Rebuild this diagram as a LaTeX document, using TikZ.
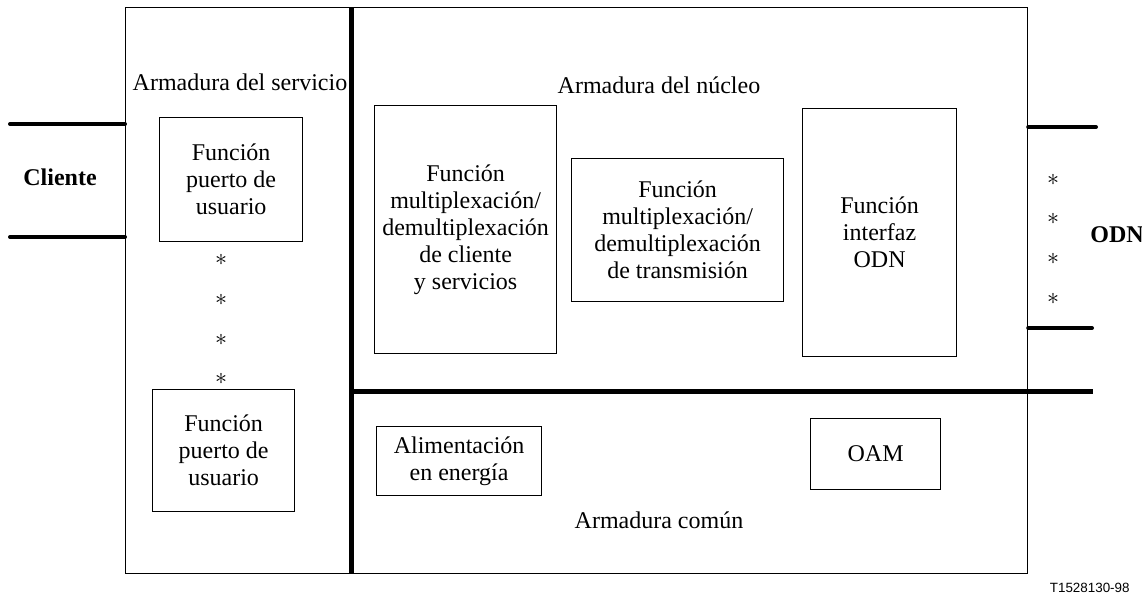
\documentclass[tikz,border=0pt]{standalone}
\usepackage{fontspec}
\setmainfont{Liberation Serif}
\newfontfamily\labelfont{Liberation Sans}
\usetikzlibrary{positioning, calc}

\tikzset{
  func/.style={draw, line width=0.6pt, align=center, inner sep=0pt, anchor=north west},
  partition/.style={line width=2.5pt},
  port/.style={line width=2pt, line cap=round},
  caption/.style={align=center, inner sep=0pt}
}

\begin{document}
\begin{tikzpicture}[x=0.5pt, y=-0.5pt, font=\fontsize{12}{13.5}\selectfont]
		\useasboundingbox (0,0) rectangle (1142,600);
		
		%----------------------------------------------------------------
		\node(chassis) [draw, line width=0.6pt, inner sep=0pt, anchor=north west, minimum width=451pt, minimum height=283pt] at (125,7) {};
		
		\coordinate (septop) at (351,7);
		\draw [partition] (septop) -- (septop |- chassis.south);
		\coordinate (sepleft) at (351,391);
		\draw [partition] (sepleft) -- (1093,391);
		
		%----------------------------------------------------------------
		\coordinate (cli1) at (10,124);
		\coordinate (cli2) at (10,237);
		\draw [port] (cli1) -- (cli1 -| chassis.west);
		\draw [port] (cli2) -- (cli2 -| chassis.west);
		\node(cliente) [caption] at (60,177) {\textbf{Cliente}};
		
		\coordinate (odn1) at (1096,127);
		\coordinate (odn2) at (1092,328);
		\draw [port] (odn1 -| chassis.east) -- (odn1);
		\draw [port] (odn2 -| chassis.east) -- (odn2);
		\node(odn) [caption] at (1117,235) {\textbf{ODN}};
		
		\node(odnstar1) [caption] at (1053,180) {$\ast$};
		\node(odnstar2) [caption] at (1053,219) {$\ast$};
		\node(odnstar3) [caption] at (1053,259) {$\ast$};
		\node(odnstar4) [caption] at (1053,299) {$\ast$};
		
		%----------------------------------------------------------------
		\node(servicio) [caption] at (240,82) {Armadura del servicio};
		
		\node(port1) [func, minimum width=71.5pt, minimum height=62pt] at (159,117) {Función \\ puerto de \\ usuario};
		
		\node(star1) [caption] at (221,260) {$\ast$};
		\node(star2) [caption] at (221,300) {$\ast$};
		\node(star3) [caption] at (221,340) {$\ast$};
		\node(star4) [caption] at (221,379) {$\ast$};
		
		\node(port2) [func, minimum width=71pt, minimum height=61pt] at (152,389) {Función \\ puerto de \\ usuario};
		
		%----------------------------------------------------------------
		\node(nucleo) [caption] at (659,85) {Armadura del núcleo};
		
		\node(muxcli) [func, minimum width=91pt, minimum height=124pt] at (374,105) {Función \\ multiplexación/ \\ demultiplexación \\ de cliente \\ y servicios};
		\node(muxtx) [func, minimum width=106pt, minimum height=71.5pt] at (571,158) {Función \\ multiplexación/ \\ demultiplexación \\ de transmisión};
		\node(odnif) [func, minimum width=77pt, minimum height=124pt] at (802,108) {Función \\ interfaz \\ ODN};
		
		%----------------------------------------------------------------
		\node(power) [func, minimum width=82.5pt, minimum height=34.5pt] at (376,426) {Alimentación \\ en energía};
		\node(oam) [func, minimum width=65pt, minimum height=35.5pt] at (810,418) {OAM};
		\node(comun) [caption] at (659,520) {Armadura común};
		
		%----------------------------------------------------------------
		\node(figid) [caption, anchor=east, font=\labelfont\fontsize{6.7}{8}\selectfont] at (1130,588) {T1528130-98};
		
	\end{tikzpicture}
\end{document}
